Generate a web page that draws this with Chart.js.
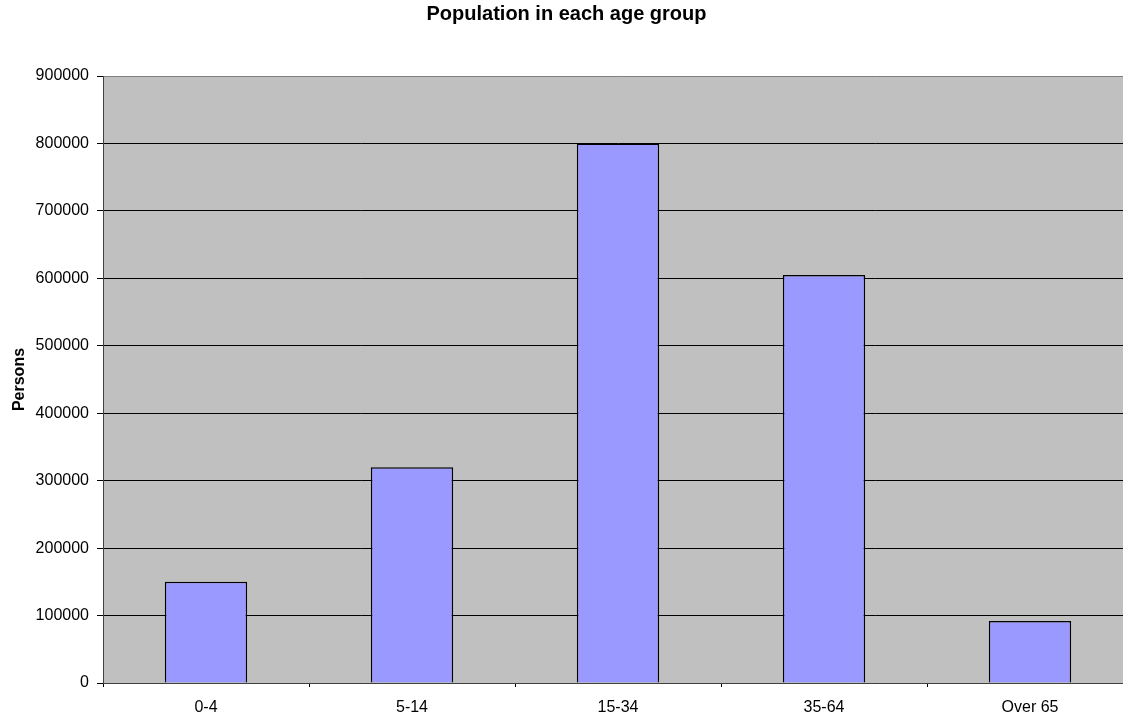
<!DOCTYPE html>
<html>
<head>
<meta charset="utf-8">
<script src="https://cdn.jsdelivr.net/npm/chart.js@4/dist/chart.umd.min.js"></script>
<style>
  html, body { margin: 0; padding: 0; background: #ffffff; overflow: hidden; }
  #wrap { width: 1133px; height: 719px; }
</style>
</head>
<body>
<div id="wrap"><canvas id="chart" width="1133" height="719"></canvas></div>
<script>
// Age groups and population counts
const ageGroups = ['0-4', '5-14', '15-34', '35-64', 'Over 65'];
const persons = [150000, 320000, 800000, 605000, 92000];
const yMax = 900000;
const yStep = 100000;

const FONT = '"Liberation Sans", Arial, sans-serif';

// Grey plot-area fill, drawn beneath the grid and bars
const plotBackground = {
  id: 'plotBackground',
  beforeDraw(chart) {
    const { ctx, chartArea: a } = chart;
    ctx.save();
    ctx.fillStyle = '#c0c0c0';
    ctx.fillRect(a.left, a.top, a.right - a.left, a.bottom - a.top);
    ctx.restore();
  }
};

new Chart(document.getElementById('chart'), {
  type: 'bar',
  data: {
    labels: ageGroups,
    datasets: [{
      data: persons,
      backgroundColor: '#9999ff',
      borderColor: '#000000',
      borderWidth: 1.5,
      borderSkipped: 'bottom',
      barPercentage: 0.4,
      categoryPercentage: 1.0
    }]
  },
  options: {
    responsive: false,
    animation: false,
    layout: { padding: { left: 0, right: 0, top: 0, bottom: 0 } },
    plugins: {
      legend: { display: false },
      tooltip: { enabled: false },
      title: {
        display: true,
        text: 'Population in each age group',
        color: '#000000',
        font: { family: FONT, size: 20, weight: 'bold' },
        padding: { top: 2, bottom: 50 }
      }
    },
    scales: {
      x: {
        grid: {
          display: true,
          drawOnChartArea: false,
          drawTicks: true,
          tickLength: 4,
          tickColor: '#000000',
          offset: true
        },
        border: { display: true, color: '#404040', width: 1 },
        ticks: {
          color: '#000000',
          font: { family: FONT, size: 16 },
          padding: 11,
          maxRotation: 0
        },
        afterFit(scale) { scale.height = 36; }
      },
      y: {
        min: 0,
        max: yMax,
        ticks: {
          stepSize: yStep,
          color: '#000000',
          font: { family: FONT, size: 16 },
          padding: 8,
          callback: v => String(v)
        },
        grid: {
          color: ctx => (ctx.tick && ctx.tick.value === yMax) ? '#808080' : '#000000',
          lineWidth: 1,
          drawTicks: true,
          tickLength: 6,
          tickColor: '#000000'
        },
        border: { display: true, color: '#404040', width: 1 },
        title: {
          display: true,
          text: 'Persons',
          color: '#000000',
          font: { family: FONT, size: 16, weight: 'bold' },
          padding: { top: 10, bottom: 0 }
        },
        afterFit(scale) { scale.width = 103; }
      }
    }
  },
  plugins: [plotBackground]
});
</script>
</body>
</html>
